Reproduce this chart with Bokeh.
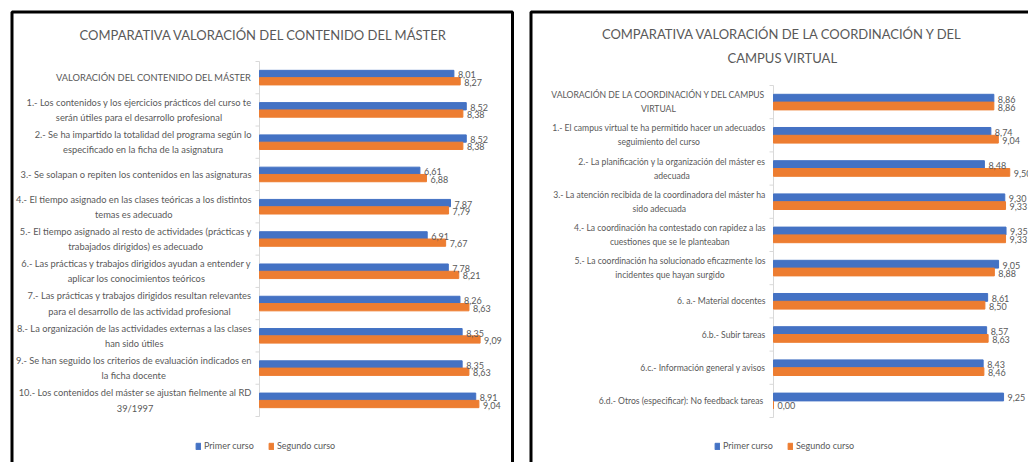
from bokeh.plotting import figure
from bokeh.models import Range1d, BoxAnnotation, Label, Legend, LegendItem, ColumnDataSource
from bokeh.layouts import row
from bokeh.embed import file_html
from bokeh.resources import INLINE
from bokeh.core.properties import value

# ---------------- data ----------------
left_title = ["COMPARATIVA VALORACIÓN DEL CONTENIDO DEL MÁSTER"]
left_cats = [
    "VALORACIÓN DEL CONTENIDO DEL MÁSTER",
    "1.- Los contenidos y los ejercicios prácticos del curso te\nserán útiles para el desarrollo profesional",
    "2.- Se ha impartido la totalidad del programa según lo\nespecificado en la ficha de la asignatura",
    "3.- Se solapan o repiten los contenidos en las asignaturas",
    "4.- El tiempo asignado en las clases teóricas a los distintos\ntemas es adecuado",
    "5.- El tiempo asignado al resto de actividades (prácticas y\ntrabajados dirigidos) es adecuado",
    "6.- Las prácticas y trabajos dirigidos ayudan a entender y\naplicar los conocimientos teóricos",
    "7.- Las prácticas y trabajos dirigidos resultan relevantes\npara el desarrollo de las actividad profesional",
    "8.- La organización de las actividades externas a las clases\nhan sido útiles",
    "9.- Se han seguido los criterios de evaluación indicados en\nla ficha docente",
    "10.- Los contenidos del máster se ajustan fielmente al RD\n39/1997",
]
left_primer = [8.01, 8.52, 8.52, 6.61, 7.87, 6.91, 7.78, 8.26, 8.35, 8.35, 8.91]
left_segundo = [8.27, 8.38, 8.38, 6.88, 7.79, 7.67, 8.21, 8.63, 9.09, 8.63, 9.04]

right_title = ["COMPARATIVA VALORACIÓN DE LA COORDINACIÓN Y DEL", "CAMPUS VIRTUAL"]
right_cats = [
    "VALORACIÓN DE LA COORDINACIÓN Y DEL CAMPUS\nVIRTUAL",
    "1.- El campus virtual te ha permitido hacer un adecuados\nseguimiento del curso",
    "2.- La planificación y la organización del máster es\nadecuada",
    "3.- La atención recibida de la coordinadora del máster ha\nsido adecuada",
    "4.- La coordinación ha contestado con rapidez a las\ncuestiones que se le planteaban",
    "5.- La coordinación ha solucionado eficazmente los\nincidentes que hayan surgido",
    "6. a.- Material docentes",
    "6.b.- Subir tareas",
    "6.c.- Información general y avisos",
    "6.d.- Otros (especificar):  No feedback tareas",
]
right_primer = [8.86, 8.74, 8.48, 9.30, 9.35, 9.05, 8.61, 8.57, 8.43, 9.25]
right_segundo = [8.86, 9.04, 9.50, 9.33, 9.33, 8.88, 8.50, 8.63, 8.46, 0.00]

series_names = ["Primer curso", "Segundo curso"]

# ---------------- style ----------------
FONT = "Lato"
BLUE = "#4472C4"
ORANGE = "#ED7D31"
GREY = "#595959"
AXIS_GREY = "#D9D9D9"
H = 462


def fmt(v):
    return f"{v:.2f}".replace(".", ",")


def panel(cats, v1, v2, titles, width, axis_x, px_per_unit, band_top, band_bottom,
          border, title_x, title_y, title_gap, legend_loc, bar_h, cat_size):
    n = len(cats)
    band = (band_bottom - band_top) / n
    x_range = Range1d(-axis_x / px_per_unit, (width - axis_x) / px_per_unit)
    y_range = Range1d(n + 0.5 + (H - band_bottom) / band, 0.5 - band_top / band)
    p = figure(width=width, height=H, x_range=x_range, y_range=y_range,
               output_backend="svg", toolbar_location=None,
               x_axis_location=None, y_axis_location=None,
               min_border=0, min_border_left=0, min_border_right=0,
               min_border_top=0, min_border_bottom=0)
    p.outline_line_color = None
    p.grid.visible = False
    p.background_fill_color = "white"
    p.border_fill_color = "white"

    pos = list(range(1, n + 1))
    bounds = [k + 0.5 for k in range(0, n + 1)]

    # category axis: line, boundary ticks, labels
    p.segment(x0=[0], x1=[0], y0=[bounds[0]], y1=[bounds[-1]], line_color=AXIS_GREY, line_width=1)
    p.segment(x0=[-4 / px_per_unit] * len(bounds), x1=[0] * len(bounds), y0=bounds, y1=bounds,
              line_color=AXIS_GREY, line_width=1)
    p.text(x=[0] * n, y=pos, text=cats, x_offset=-8, anchor=value("center_right"),
           text_align="center", text_baseline="middle",
           text_font=value(FONT), text_font_size=cat_size, text_color=GREY, text_line_height=1.4)

    y1 = [y - bar_h / 2 for y in pos]
    y2 = [y + bar_h / 2 for y in pos]
    s1 = ColumnDataSource(dict(y=y1, v=v1, t=[fmt(v) for v in v1]))
    s2 = ColumnDataSource(dict(y=y2, v=v2, t=[fmt(v) for v in v2]))
    r1 = p.hbar(y="y", left=0, right="v", height=bar_h, source=s1, fill_color=BLUE, line_color=BLUE)
    r2 = p.hbar(y="y", left=0, right="v", height=bar_h, source=s2, fill_color=ORANGE, line_color=ORANGE)
    for s in (s1, s2):
        p.text(x="v", y="y", text="t", source=s, x_offset=4, y_offset=1, text_baseline="middle",
               text_font=value(FONT), text_font_size="9px", text_color=GREY)

    for i, t in enumerate(titles):
        p.add_layout(Label(x=title_x, y=title_y + i * title_gap, x_units="canvas", y_units="canvas",
                           text=t, text_align="center", text_baseline="middle", text_font=FONT,
                           text_font_size="13px", text_color=GREY))

    bl, br, bt = border
    p.add_layout(BoxAnnotation(left=bl, right=br, top=bt, bottom=H + 40,
                               left_units="canvas", right_units="canvas",
                               top_units="canvas", bottom_units="canvas",
                               fill_alpha=0, line_color="black", line_alpha=1, line_width=3))

    legend = Legend(items=[LegendItem(label=series_names[0], renderers=[r1]),
                           LegendItem(label=series_names[1], renderers=[r2])],
                    orientation="horizontal", location=legend_loc,
                    glyph_width=6, glyph_height=8, label_height=10, label_width=10,
                    label_standoff=3, spacing=14, padding=0, margin=0,
                    label_text_font=FONT, label_text_font_size="9px", label_text_color=GREY,
                    border_line_color=None, background_fill_alpha=0)
    p.add_layout(legend, "center")
    return p


p1 = panel(left_cats, left_primer, left_segundo, left_title, width=521,
           axis_x=259, px_per_unit=24.27, band_top=61, band_bottom=416,
           border=(11.5, 512, 11.5), title_x=263, title_y=34, title_gap=24,
           legend_loc=(195, 11), bar_h=0.226, cat_size="9.3px")
p2 = panel(right_cats, right_primer, right_segundo, right_title, width=507,
           axis_x=252, px_per_unit=24.87, band_top=85, band_bottom=417,
           border=(9.5, 560, 11.5), title_x=261, title_y=33, title_gap=24,
           legend_loc=(193, 11), bar_h=0.235, cat_size="8.6px")

layout = row(p1, p2, spacing=0)
open("out.html", "w").write(file_html(layout, INLINE))
